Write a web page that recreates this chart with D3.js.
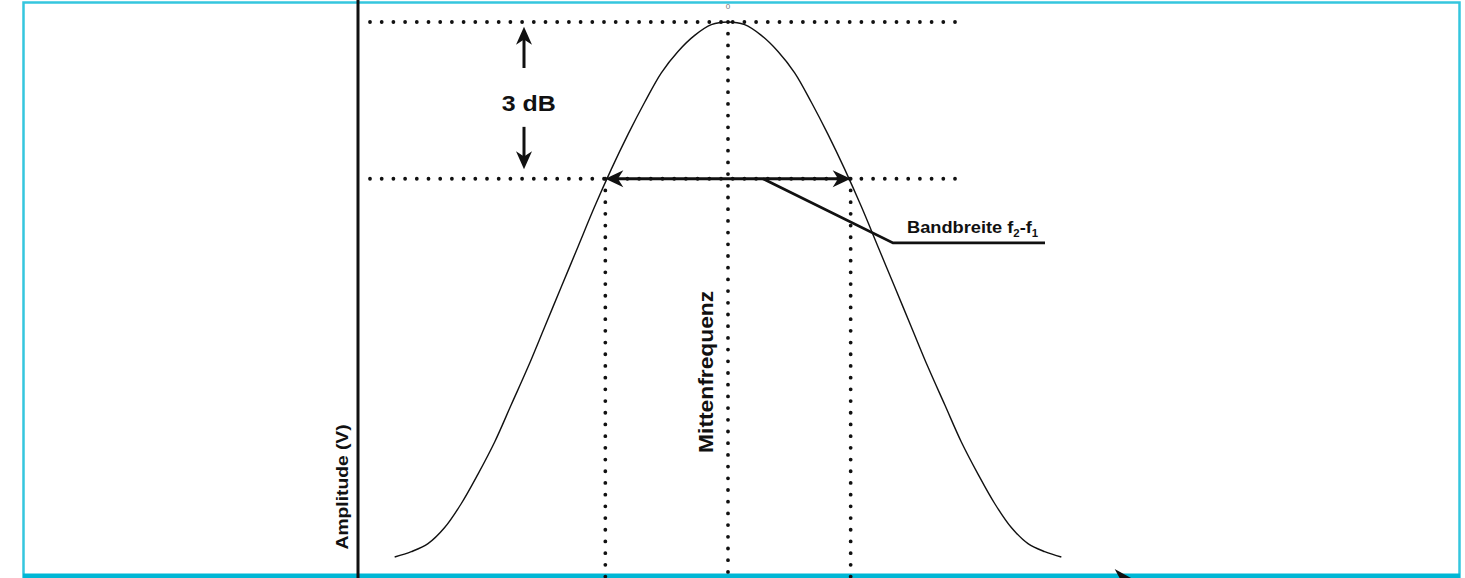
<!DOCTYPE html>
<html>
<head>
<meta charset="utf-8">
<script src="https://cdn.jsdelivr.net/npm/d3@7"></script>
<style>
  body { margin: 0; background: #fff; }
  text { font-family: "Liberation Sans", Arial, sans-serif; font-weight: bold; fill: #111; }
</style>
</head>
<body>
<div id="chart"></div>
<script>
// frequency offset from the centre frequency (arbitrary units) and relative amplitude
const freq = [-50, -47.5, -45, -42.5, -40, -37.5, -35, -32.5, -30, -27.5, -25, -22.5, -20, -17.5, -15, -12.5, -10, -7.5, -5, -2.5,
              0, 2.5, 5, 7.5, 10, 12.5, 15, 17.5, 20, 22.5, 25, 27.5, 30, 32.5, 35, 37.5, 40, 42.5, 45, 47.5, 50]
const amp  = [0, 0.01, 0.025, 0.055, 0.10, 0.155, 0.215, 0.285, 0.355, 0.43, 0.505, 0.58, 0.655, 0.725, 0.79, 0.85, 0.905, 0.945, 0.975, 0.995,
              1.00, 0.995, 0.975, 0.945, 0.905, 0.85, 0.79, 0.725, 0.655, 0.58, 0.505, 0.43, 0.355, 0.285, 0.215, 0.155, 0.10, 0.055, 0.025, 0.01, 0]

const peak = 1.0
const level3dB = 0.707          // -3 dB point
const f1 = -18.4, f2 = 18.4     // band edges
const fc = 0                    // centre frequency

const yLabel = 'Amplitude (V)'
const centreLabel = 'Mittenfrequenz'
const dbLabel = '3 dB'
const peakTick = '0'

let width = 1465, height = 578

let x = d3.scaleLinear().domain([-55.5, 55.5]).range([358, 1098])
let y = d3.scaleLinear().domain([0, 1]).range([557, 22])

let svg = d3.select('#chart').append('svg')
  .attr('width', width)
  .attr('height', height)

// cyan frame
svg.append('path')
  .attr('d', `M23.5,${height} V2.5 H1459.5 V${height}`)
  .attr('fill', 'none')
  .attr('stroke', '#35c6de')
  .attr('stroke-width', 2.5)
svg.append('rect')
  .attr('x', 23).attr('y', 573.5)
  .attr('width', 1437).attr('height', 5)
  .attr('fill', '#00b7d5')

let ink = '#111'

// little helper for the filled arrow heads
function arrowHead(tx, ty, ang, len = 16, hw = 7) {
  let c = Math.cos(ang), s = Math.sin(ang)
  let pt = (u, v) => [tx + u * c - v * s, ty + u * s + v * c]
  let p = [pt(0, 0), pt(-len, -hw), pt(-len * 0.7, 0), pt(-len, hw)]
  return 'M' + p.map(q => q.join(',')).join('L') + 'Z'
}

// y axis
svg.append('line')
  .attr('x1', x(-55.5)).attr('x2', x(-55.5))
  .attr('y1', 0).attr('y2', height)
  .attr('stroke', ink).attr('stroke-width', 3)

// x axis (sits under the bottom bar, only the head shows)
let xEnd = 61
svg.append('line')
  .attr('x1', x(-55.5)).attr('x2', x(xEnd) - 10)
  .attr('y1', 580).attr('y2', 580)
  .attr('stroke', ink).attr('stroke-width', 3)
svg.append('path')
  .attr('d', arrowHead(x(xEnd), 580, 0, 20, 11))
  .attr('fill', ink)

// dotted guides
let dotted = sel => sel
  .attr('stroke', ink)
  .attr('stroke-width', 3.8)
  .attr('stroke-linecap', 'round')
  .attr('stroke-dasharray', '0 11.7')

;[peak, level3dB].forEach(v => {
  svg.append('line')
    .attr('x1', x(-53.7)).attr('x2', x(34.6))
    .attr('y1', y(v)).attr('y2', y(v))
    .call(dotted)
})
;[[f1, level3dB], [fc, peak], [f2, level3dB]].forEach(([f, v]) => {
  svg.append('line')
    .attr('x1', x(f)).attr('x2', x(f))
    .attr('y1', y(v)).attr('y2', height)
    .call(dotted)
})

// response curve
let line = d3.line()
  .x((d, i) => x(freq[i]))
  .y(d => y(d))
  .curve(d3.curveCatmullRom)
svg.append('path')
  .attr('d', line(amp))
  .attr('fill', 'none')
  .attr('stroke', ink)
  .attr('stroke-width', 1.4)

// bandwidth double arrow
svg.append('line')
  .attr('x1', x(f1) + 8).attr('x2', x(f2) - 8)
  .attr('y1', y(level3dB)).attr('y2', y(level3dB))
  .attr('stroke', ink).attr('stroke-width', 3)
svg.append('path').attr('d', arrowHead(x(f1), y(level3dB), Math.PI, 18, 8.5)).attr('fill', ink)
svg.append('path').attr('d', arrowHead(x(f2), y(level3dB), 0, 18, 8.5)).attr('fill', ink)

// leader to the bandwidth label
let leader = [[5.25, level3dB], [24.75, 0.587], [47.55, 0.587]]
svg.append('path')
  .attr('d', d3.line().x(d => x(d[0])).y(d => y(d[1]))(leader))
  .attr('fill', 'none')
  .attr('stroke', ink).attr('stroke-width', 2.8)

let bw = svg.append('g')
  .attr('transform', `translate(${x(26.85)},${y(0.606)}) scale(1.14,1)`)
  .append('text')
  .attr('font-size', 16)
bw.append('tspan').text('Bandbreite f')
bw.append('tspan').attr('font-size', 10).attr('dy', 4).text('2')
bw.append('tspan').attr('dy', -4).text('-f')
bw.append('tspan').attr('font-size', 10).attr('dy', 4).text('1')

// 3 dB arrows and label
let ax = x(-30.6)
svg.append('line')
  .attr('x1', ax).attr('x2', ax)
  .attr('y1', y(0.914)).attr('y2', y(0.991) + 10)
  .attr('stroke', ink).attr('stroke-width', 3)
svg.append('path').attr('d', arrowHead(ax, y(0.991), -Math.PI / 2, 18, 8)).attr('fill', ink)
svg.append('line')
  .attr('x1', ax).attr('x2', ax)
  .attr('y1', y(0.804)).attr('y2', y(0.725) - 10)
  .attr('stroke', ink).attr('stroke-width', 3)
svg.append('path').attr('d', arrowHead(ax, y(0.725), Math.PI / 2, 18, 8)).attr('fill', ink)

svg.append('text')
  .attr('x', x(-29.9)).attr('y', y(0.834))
  .attr('text-anchor', 'middle')
  .attr('font-size', 22)
  .attr('textLength', 54)
  .attr('lengthAdjust', 'spacingAndGlyphs')
  .text(dbLabel)

// rotated labels
svg.append('text')
  .attr('transform', `translate(${x(-2.25)},${y(0.346)}) rotate(-90)`)
  .attr('text-anchor', 'middle')
  .attr('font-size', 20)
  .attr('textLength', 162)
  .attr('lengthAdjust', 'spacingAndGlyphs')
  .text(centreLabel)

svg.append('text')
  .attr('transform', `translate(${x(-57)},${y(0.131)}) rotate(-90)`)
  .attr('text-anchor', 'middle')
  .attr('font-size', 16)
  .attr('textLength', 125)
  .attr('lengthAdjust', 'spacingAndGlyphs')
  .text(yLabel)

// tiny tick at the peak
svg.append('text')
  .attr('x', x(fc)).attr('y', y(1.024))
  .attr('text-anchor', 'middle')
  .attr('font-size', 8)
  .style('font-weight', 'normal')
  .style('fill', '#777')
  .text(peakTick)
</script>
</body>
</html>
